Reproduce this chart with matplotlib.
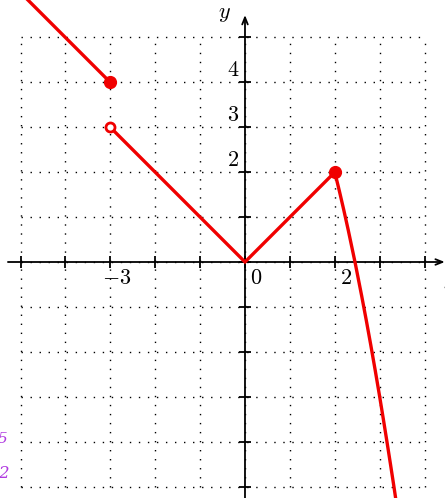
import matplotlib
matplotlib.use("Agg")
import matplotlib.pyplot as plt

plt.rcParams["mathtext.fontset"] = "cm"
plt.rcParams["font.family"] = "serif"
plt.rcParams["font.serif"] = ["DejaVu Serif"]

# grid and axis ticks
grid_x = list(range(-5, 5))
grid_y = list(range(-5, 6))

# piecewise graph
ray_x = [-3, -5.1]
ray_y = [4, 6.1]
vee_x = [-3, 0, 2]
vee_y = [3, 0, 2]
drop_x = [2, 2.1, 2.2, 2.3, 2.45, 2.6, 2.7, 2.8, 2.9, 3.0, 3.08, 3.16, 3.24, 3.32, 3.45]
drop_y = [2, 1.59, 1.16, 0.71, 0, -0.76, -1.29, -1.84, -2.41, -3, -3.49, -3.99, -4.5, -5.02, -5.9]
filled_x = [-3, 2]
filled_y = [4, 2]
open_x = [-3]
open_y = [3]

# axis labels
xtick_pos = [-3, 0, 2]
xtick_text = [r"$-3$", r"$0$", r"$2$"]
ytick_pos = [2, 3, 4]
ytick_text = [r"$2$", r"$3$", r"$4$"]

RED = "#f00000"

fig = plt.figure(figsize=(4.45, 4.98), dpi=100)
ax = fig.add_axes([0, 0, 1, 1])
ax.set_xlim(-5.457, 4.455)
ax.set_ylim(-5.256, 5.835)
ax.axis("off")

dots = dict(color="k", lw=1.0, ls=(0, (1, 5.5)), zorder=1)
for gx in grid_x:
    ax.plot([gx, gx], [grid_y[0], grid_y[-1]], **dots)
for gy in grid_y:
    ax.plot([grid_x[0], grid_x[-1]], [gy, gy], **dots)

# axes with arrow heads
arrow = dict(arrowstyle="->,head_length=0.5,head_width=0.2", lw=1.3, color="k",
             shrinkA=0, shrinkB=0)
ax.annotate("", xy=(4.45, 0), xytext=(-5.28, 0), arrowprops=arrow, zorder=2)
ax.annotate("", xy=(0, 5.5), xytext=(0, -5.4), arrowprops=arrow, zorder=2)
ax.plot(grid_x, [0] * len(grid_x), ls="none", marker="|", ms=8, mew=1.3,
        color="k", zorder=2)
ax.plot([0] * len(grid_y), grid_y, ls="none", marker="_", ms=8, mew=1.3,
        color="k", zorder=2)

ax.text(-0.45, 5.55, r"$y$", fontsize=16, ha="center", va="center")
ax.text(4.42, -0.47, r"$x$", fontsize=16, ha="left", va="center", clip_on=False)
for p, t in zip(xtick_pos, xtick_text):
    dx = 0.15 if p == -3 else 0.24
    ax.text(p + dx, -0.36, t, fontsize=16, ha="center", va="center")
for p, t in zip(ytick_pos, ytick_text):
    ax.text(-0.27, p + 0.28, t, fontsize=16, ha="center", va="center")

# graph
lw = 2.4
ax.plot(ray_x, ray_y, color=RED, lw=lw, zorder=3)
ax.plot(vee_x, vee_y, color=RED, lw=lw, zorder=3, solid_joinstyle="miter")
ax.plot(drop_x, drop_y, color=RED, lw=lw, zorder=3)
ax.plot(filled_x, filled_y, ls="none", marker="o", ms=8.5, color=RED, zorder=4)
ax.plot(open_x, open_y, ls="none", marker="o", ms=6.5, mfc="white", mec=RED,
        mew=2, zorder=4)

# stray pen marks on the margin
ax.text(-5.39, -3.95, "5", fontsize=11, color="#b03ae0", ha="center", va="center",
        style="italic")
ax.text(-5.38, -4.7, "2", fontsize=12, color="#b03ae0", ha="center", va="center",
        style="italic")

fig.savefig("out.png", dpi=100)
